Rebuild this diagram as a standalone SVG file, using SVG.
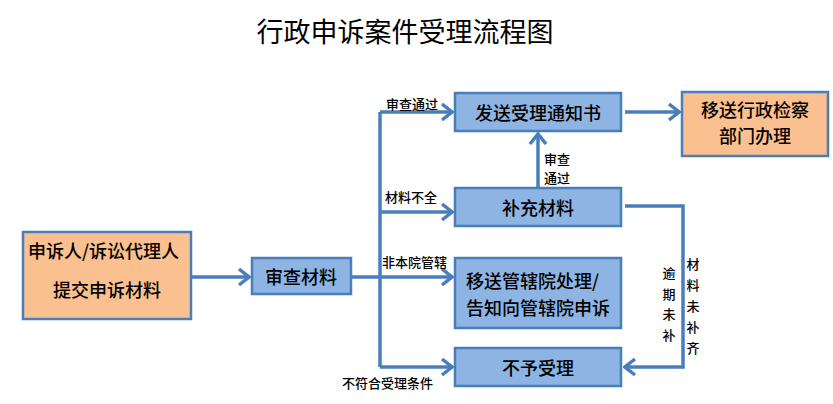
<svg xmlns="http://www.w3.org/2000/svg" width="833" height="404" viewBox="0 0 833 404">
<style>
.bx{fill:#8DB4E2;stroke:#4A7EBB;stroke-width:2.5}
.or{fill:#FAC090;stroke:#4A7EBB;stroke-width:2.5}
.t{font-family:"Noto Sans CJK SC","Liberation Sans",sans-serif;font-size:18px;font-weight:500;fill:#000;text-anchor:middle;dominant-baseline:central}
.t.l{text-anchor:start}
.s{font-family:"Noto Sans CJK SC","Liberation Sans",sans-serif;font-size:13px;font-weight:500;fill:#000;dominant-baseline:central}
.v{text-anchor:middle}
.c{fill:none;stroke:#4A7EBB;stroke-width:3.5}
.ttl{font-family:"Noto Sans CJK SC","Liberation Sans",sans-serif;font-size:27px;fill:#000;text-anchor:middle;dominant-baseline:central}
</style>
<defs>
<marker id="ah" viewBox="0 0 14 20" refX="12" refY="10" markerWidth="14" markerHeight="20" markerUnits="userSpaceOnUse" orient="auto">
<path d="M2,2 L12,10 L2,18" fill="none" stroke="#4A7EBB" stroke-width="3.5"/>
</marker>
</defs>
<rect width="833" height="404" fill="#fff"/>
<text class="ttl" x="405" y="30">行政申诉案件受理流程图</text>

<g id="connectors">
<path class="c" d="M191,277 H249" marker-end="url(#ah)"/>
<path class="c" d="M351,277 H380"/>
<path class="c" d="M380,112 V367"/>
<path class="c" d="M380,112 H452" marker-end="url(#ah)"/>
<path class="c" d="M380,212 H452" marker-end="url(#ah)"/>
<path class="c" d="M380,277 H452" marker-end="url(#ah)"/>
<path class="c" d="M380,367 H452" marker-end="url(#ah)"/>
<path class="c" d="M625,112 H679" marker-end="url(#ah)"/>
<path class="c" d="M538,187 V134" marker-end="url(#ah)"/>
<path class="c" d="M625,206 H683 V367 H625" marker-end="url(#ah)"/>
<text class="s" x="386" y="103">审查通过</text>
<text class="s" x="385" y="196">材料不全</text>
<text class="s" x="382" y="261">非本院管辖</text>
<text class="s" x="342" y="382">不符合受理条件</text>
<text class="s" x="544" y="158">审查</text>
<text class="s" x="544" y="177">通过</text>
<text class="s v" x="669" y="272">逾</text>
<text class="s v" x="669" y="293">期</text>
<text class="s v" x="669" y="313">未</text>
<text class="s v" x="669" y="334">补</text>
<text class="s v" x="693" y="263">材</text>
<text class="s v" x="693" y="284">料</text>
<text class="s v" x="693" y="305">未</text>
<text class="s v" x="693" y="326">补</text>
<text class="s v" x="693" y="347">齐</text>
</g>

<g id="n-submit">
<rect class="or" x="23" y="232" width="168" height="87"/>
<text class="t l" x="28" y="250">申诉人/诉讼代理人</text>
<text class="t" x="107" y="289">提交申诉材料</text>
</g>
<g id="n-review">
<rect class="bx" x="252" y="258" width="99" height="36"/>
<text class="t" x="301" y="276">审查材料</text>
</g>
<g id="n-notice">
<rect class="bx" x="455" y="93" width="166" height="38"/>
<text class="t" x="538" y="112">发送受理通知书</text>
</g>
<g id="n-transfer-admin">
<rect class="or" x="682" y="92" width="146" height="64"/>
<text class="t" x="755" y="109">移送行政检察</text>
<text class="t" x="755" y="135">部门办理</text>
</g>
<g id="n-supplement">
<rect class="bx" x="455" y="188" width="166" height="38"/>
<text class="t" x="538" y="207">补充材料</text>
</g>
<g id="n-transfer-court">
<rect class="bx" x="455" y="258" width="166" height="70"/>
<text class="t l" x="466" y="280">移送管辖院处理/</text>
<text class="t" x="538" y="307">告知向管辖院申诉</text>
</g>
<g id="n-reject">
<rect class="bx" x="455" y="348" width="166" height="38"/>
<text class="t" x="538" y="367">不予受理</text>
</g>
</svg>
